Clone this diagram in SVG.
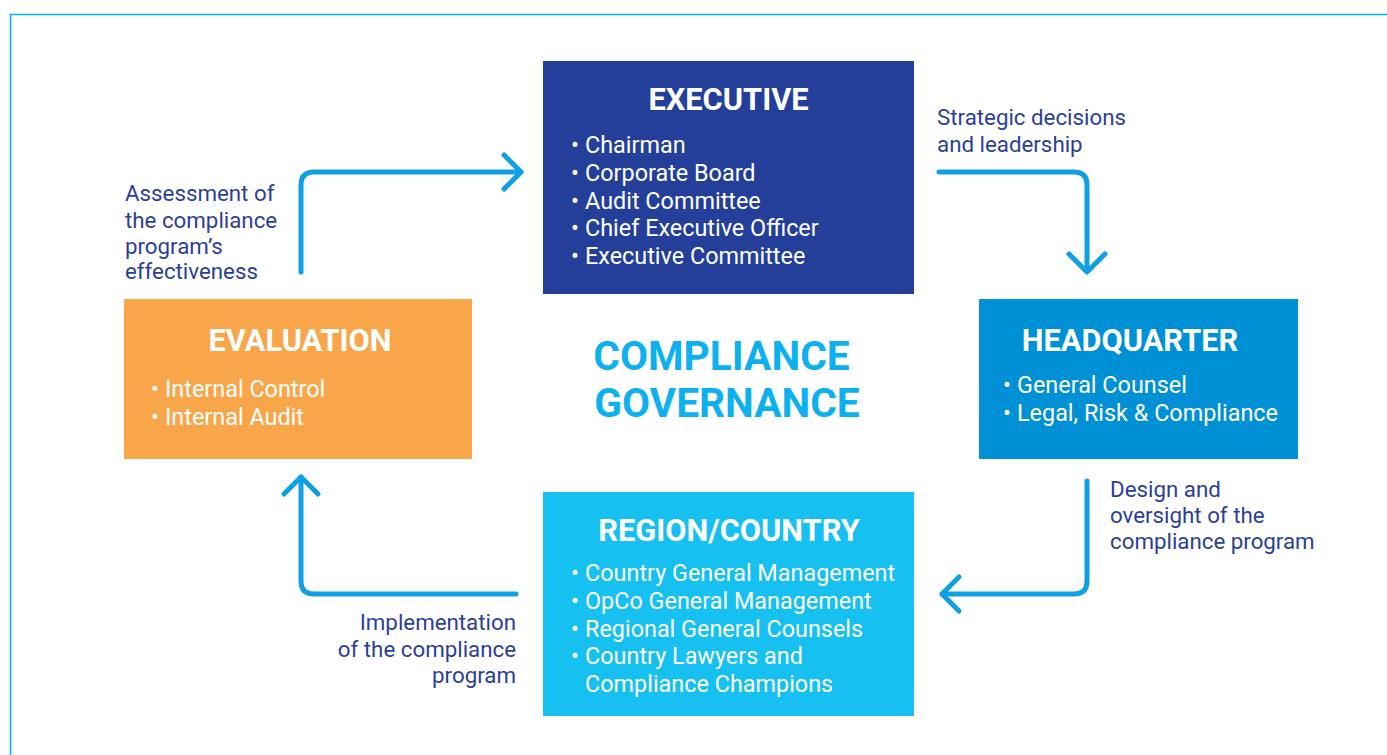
<svg xmlns="http://www.w3.org/2000/svg" width="1387" height="755" viewBox="0 0 1387 755">
<style>
.title{font-family:Roboto,"Liberation Sans",sans-serif;font-weight:700;font-size:30.8px;fill:#ffffff;text-anchor:middle}
.item{font-family:Roboto,"Liberation Sans",sans-serif;font-size:23.4px;fill:#ffffff}
.lbl{font-family:Roboto,"Liberation Sans",sans-serif;font-size:22.3px;fill:#2b3f96}
.center{font-family:Roboto,"Liberation Sans",sans-serif;font-weight:700;font-size:40.7px;fill:#0eb1ef;text-anchor:middle}
.conn{fill:none;stroke:#0ea0e2;stroke-width:5;stroke-linecap:round;stroke-linejoin:round}
</style>
<rect width="1387" height="755" fill="#ffffff"/>
<path d="M10.5,755 V14.5 H1387" fill="none" stroke="#00b4f0" stroke-width="1.6"/>

<g id="connectors">
<path class="conn" d="M301,272 V185 Q301,172 314,172 H521"/>
<path class="conn" d="M504,155 L521,172 L504,189"/>
<path class="conn" d="M939,172 H1074 Q1087,172 1087,185 V271"/>
<path class="conn" d="M1069,254 L1087,272 L1105,254"/>
<path class="conn" d="M1087,481 V581 Q1087,594 1074,594 H942"/>
<path class="conn" d="M959,577 L942,594 L959,611"/>
<path class="conn" d="M516,594 H314 Q301,594 301,581 V477"/>
<path class="conn" d="M284,494 L301,477 L318,494"/>
</g>

<g id="executive">
<rect x="543" y="61" width="371" height="233" fill="#243f99"/>
<text class="title" x="728.5" y="109.5">EXECUTIVE</text>
<text class="item"><tspan x="571" y="153">•</tspan><tspan x="585" y="153">Chairman</tspan></text>
<text class="item"><tspan x="571" y="181">•</tspan><tspan x="585" y="181">Corporate Board</tspan></text>
<text class="item"><tspan x="571" y="208.5">•</tspan><tspan x="585" y="208.5">Audit Committee</tspan></text>
<text class="item"><tspan x="571" y="236">•</tspan><tspan x="585" y="236">Chief Executive Officer</tspan></text>
<text class="item"><tspan x="571" y="264">•</tspan><tspan x="585" y="264">Executive Committee</tspan></text>
</g>

<g id="evaluation">
<rect x="124" y="299" width="348" height="160" fill="#f9a64b"/>
<text class="title" x="300" y="351">EVALUATION</text>
<text class="item"><tspan x="151" y="397">•</tspan><tspan x="165" y="397">Internal Control</tspan></text>
<text class="item"><tspan x="151" y="425">•</tspan><tspan x="165" y="425">Internal Audit</tspan></text>
</g>

<g id="headquarter">
<rect x="979" y="299" width="319" height="160" fill="#0090d5"/>
<text class="title" x="1130" y="351">HEADQUARTER</text>
<text class="item"><tspan x="1003" y="392.5">•</tspan><tspan x="1017" y="392.5">General Counsel</tspan></text>
<text class="item"><tspan x="1003" y="420.5">•</tspan><tspan x="1017" y="420.5">Legal, Risk &amp; Compliance</tspan></text>
</g>

<g id="region">
<rect x="543" y="492" width="371" height="224" fill="#16c0f0"/>
<text class="title" x="729" y="541">REGION/COUNTRY</text>
<text class="item"><tspan x="571" y="581">•</tspan><tspan x="585" y="581">Country General Management</tspan></text>
<text class="item"><tspan x="571" y="608.5">•</tspan><tspan x="585" y="608.5">OpCo General Management</tspan></text>
<text class="item"><tspan x="571" y="636.5">•</tspan><tspan x="585" y="636.5">Regional General Counsels</tspan></text>
<text class="item"><tspan x="571" y="664">•</tspan><tspan x="585" y="664">Country Lawyers and</tspan></text>
<text class="item"><tspan x="585" y="692">Compliance Champions</tspan></text>
</g>

<g id="center-title">
<text class="center" x="721.5" y="369.5">COMPLIANCE</text>
<text class="center" x="727" y="417">GOVERNANCE</text>
</g>

<g id="labels">
<text class="lbl"><tspan x="125" y="201">Assessment of</tspan><tspan x="125" y="227.5">the compliance</tspan><tspan x="125" y="253.5">program’s</tspan><tspan x="125" y="279">effectiveness</tspan></text>
<text class="lbl"><tspan x="937" y="125">Strategic decisions</tspan><tspan x="937" y="151.5">and leadership</tspan></text>
<text class="lbl"><tspan x="1110" y="496.5">Design and</tspan><tspan x="1110" y="522.5">oversight of the</tspan><tspan x="1110" y="548.5">compliance program</tspan></text>
<text class="lbl" text-anchor="end"><tspan x="516" y="630">Implementation</tspan><tspan x="516" y="656.5">of the compliance</tspan><tspan x="516" y="682.5">program</tspan></text>
</g>
</svg>
